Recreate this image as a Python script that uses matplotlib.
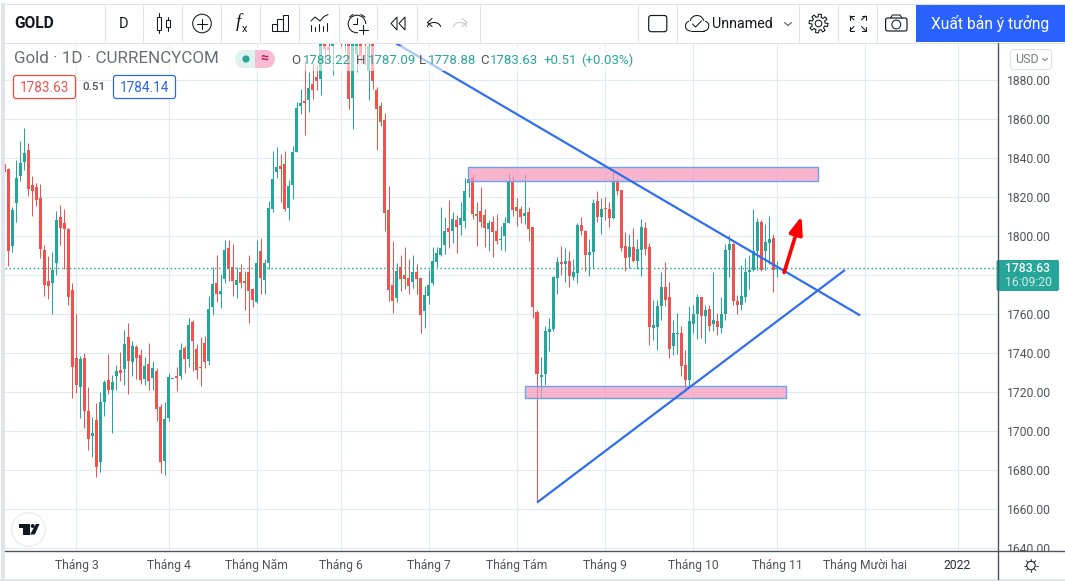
import numpy as np
import matplotlib
matplotlib.use("Agg")
import matplotlib.pyplot as plt
from matplotlib.patches import Rectangle, Circle, FancyBboxPatch, Polygon, Arc
from matplotlib.transforms import Bbox

plt.rcParams["font.family"] = ["Roboto", "DejaVu Sans"]

# Daily OHLC for Gold, one value per session
opens = [
    1837.0,1834.0,1794.7,1816.8,1830.6,1837.8,1843.8,1825.8,1824.8,1819.2,
    1792.5,1776.6,1775.7,1786.0,1809.4,1806.3,1803.3,1772.0,1737.6,1722.4,
    1737.6,1710.4,1697.3,1705.8,1684.0,1714.7,1726.3,1720.9,1728.0,1731.5,
    1731.6,1748.4,1735.2,1743.3,1739.2,1726.5,1734.5,1727.0,1730.9,1712.5,
    1684.5,1706.5,1726.5,1728.4,1728.0,1742.7,1736.8,1755.6,1742.2,1733.0,
    1745.3,1735.7,1763.4,1775.6,1770.1,1777.8,1793.5,1783.8,1774.7,1781.2,
    1776.6,1781.7,1772.5,1765.9,1792.1,1777.3,1786.1,1813.7,1832.8,1835.7,
    1836.7,1814.4,1826.1,1842.9,1866.5,1869.0,1869.6,1877.8,1881.4,1880.3,
    1898.8,1896.7,1897.3,1903.0,1905.0,1901.0,1903.0,1870.6,1893.2,1899.1,
    1902.0,1884.6,1902.0,1874.4,1866.5,1859.3,1813.0,1775.0,1768.0,1783.8,
    1779.7,1778.6,1776.2,1781.2,1778.6,1761.4,1769.0,1775.7,1786.5,1790.4,
    1795.5,1803.8,1802.4,1807.9,1805.3,1807.5,1827.0,1829.4,1811.0,1812.5,
    1810.4,1803.4,1806.8,1802.2,1797.8,1799.8,1806.3,1827.9,1814.5,1813.5,
    1809.9,1812.0,1804.3,1761.2,1727.9,1729.1,1750.6,1752.1,1778.3,1786.8,
    1785.3,1787.3,1779.1,1780.9,1805.3,1802.2,1790.4,1791.6,1817.6,1809.6,
    1814.0,1813.5,1809.0,1827.9,1823.2,1795.0,1789.1,1794.0,1787.0,1792.6,
    1803.8,1794.0,1753.0,1753.5,1763.8,1774.0,1768.9,1743.8,1749.6,1750.4,
    1734.0,1726.0,1755.0,1760.2,1768.4,1759.1,1762.7,1755.0,1756.6,1753.0,
    1760.2,1792.5,1795.6,1766.8,1764.3,1768.4,1781.7,1782.7,1792.3,1807.3,
    1792.0,1796.1,1799.1,1783.22,
]
closes = [
    1832.7,1792.2,1813.0,1829.4,1837.1,1842.2,1823.9,1822.9,1818.3,1793.2,
    1774.7,1774.2,1782.7,1807.9,1803.9,1803.4,1768.6,1732.7,1723.4,1737.1,
    1710.1,1696.2,1699.2,1681.4,1715.1,1725.3,1720.9,1725.3,1730.9,1729.6,
    1744.8,1735.7,1743.8,1737.3,1726.0,1733.5,1725.5,1732.5,1711.1,1684.0,
    1706.3,1727.9,1726.8,1727.0,1741.7,1736.8,1754.5,1746.0,1731.1,1732.1,
    1735.2,1762.7,1775.1,1770.1,1771.5,1792.5,1782.9,1776.8,1777.6,1775.7,
    1775.7,1771.6,1767.0,1786.3,1778.3,1786.0,1814.2,1829.1,1835.0,1834.2,
    1813.7,1825.5,1842.9,1865.5,1868.0,1868.0,1875.7,1874.7,1879.3,1902.0,
    1895.7,1895.2,1900.0,1907.0,1901.0,1905.0,1870.1,1903.0,1898.3,1892.0,
    1899.5,1897.1,1879.0,1865.1,1858.5,1811.8,1772.1,1766.5,1782.2,1777.8,
    1778.1,1774.5,1781.2,1777.8,1759.3,1769.9,1775.0,1787.3,1791.4,1793.5,
    1802.2,1801.7,1808.4,1804.3,1808.9,1822.7,1828.9,1811.1,1810.1,1807.0,
    1803.9,1806.3,1801.9,1797.3,1798.6,1806.3,1827.9,1813.2,1812.7,1809.6,
    1811.5,1803.4,1763.4,1729.1,1728.9,1751.4,1752.5,1779.1,1786.8,1785.3,
    1787.3,1779.3,1781.2,1805.3,1802.4,1790.1,1791.5,1816.6,1809.6,1813.5,
    1813.7,1809.0,1827.4,1822.9,1793.7,1788.5,1794.0,1787.0,1793.0,1804.3,
    1793.2,1753.2,1754.5,1763.8,1774.0,1767.3,1741.9,1750.4,1749.9,1733.2,
    1726.0,1756.6,1760.2,1768.9,1759.1,1762.2,1754.0,1757.1,1753.5,1759.7,
    1792.5,1795.6,1766.8,1764.3,1769.4,1781.7,1782.7,1792.3,1807.3,1782.7,
    1796.6,1798.6,1782.7,1783.63,
]
highs = [
    1837.1,1834.5,1814.9,1838.6,1848.4,1855.1,1847.4,1830.4,1826.8,1826.3,
    1795.1,1789.4,1791.5,1812.5,1815.6,1813.5,1803.8,1775.6,1759.7,1738.6,
    1740.2,1722.7,1707.4,1714.2,1720.2,1726.3,1739.7,1728.9,1734.0,1740.7,
    1751.5,1755.1,1746.3,1744.3,1742.2,1738.1,1745.3,1736.1,1732.5,1714.0,
    1715.1,1729.9,1726.8,1733.0,1745.3,1743.8,1758.1,1757.1,1744.8,1748.4,
    1748.9,1769.4,1783.8,1789.9,1780.2,1797.6,1797.6,1795.6,1783.8,1785.3,
    1782.2,1789.9,1773.5,1797.6,1798.8,1788.0,1817.6,1843.4,1845.5,1841.7,
    1843.6,1828.5,1846.0,1868.5,1875.2,1889.7,1883.8,1888.5,1887.2,1905.0,
    1903.0,1902.0,1903.0,1910.0,1907.0,1908.0,1908.0,1908.0,1904.0,1903.0,
    1905.0,1903.0,1905.0,1876.1,1868.7,1862.9,1825.3,1797.1,1786.3,1789.9,
    1794.5,1787.9,1789.9,1785.3,1778.6,1774.2,1782.7,1794.5,1794.2,1814.5,
    1809.4,1818.1,1812.0,1810.4,1817.1,1829.4,1828.9,1831.5,1817.1,1824.8,
    1813.5,1807.9,1809.9,1811.4,1804.8,1809.4,1832.3,1830.9,1819.1,1815.0,
    1831.5,1814.5,1804.6,1762.2,1738.1,1754.0,1758.1,1779.5,1788.9,1795.0,
    1793.5,1792.0,1787.9,1806.3,1809.4,1802.7,1798.1,1818.6,1822.7,1819.1,
    1819.7,1817.1,1833.0,1828.9,1823.2,1801.7,1800.7,1803.8,1798.1,1808.4,
    1806.8,1796.1,1767.3,1767.3,1781.2,1786.8,1776.1,1757.1,1760.7,1754.0,
    1741.7,1763.8,1764.8,1770.4,1768.9,1764.3,1764.3,1781.2,1760.5,1768.9,
    1795.6,1800.2,1796.1,1769.9,1784.8,1788.4,1789.9,1813.5,1808.9,1807.9,
    1805.8,1809.9,1800.7,1787.09,
]
lows = [
    1832.7,1784.5,1791.6,1807.0,1828.0,1833.7,1820.4,1810.1,1815.2,1788.6,
    1769.1,1767.5,1759.8,1779.8,1795.2,1782.9,1764.5,1716.8,1719.3,1706.5,
    1701.4,1690.1,1686.5,1676.3,1679.3,1707.5,1718.8,1698.8,1720.9,1725.5,
    1723.4,1718.8,1728.0,1726.5,1723.9,1723.4,1720.9,1720.9,1705.0,1678.3,
    1677.3,1705.0,1726.5,1720.4,1726.5,1729.8,1732.7,1730.6,1726.5,1722.9,
    1732.1,1733.7,1759.3,1766.0,1762.9,1775.7,1776.8,1769.1,1768.0,1773.2,
    1761.9,1755.2,1763.4,1765.5,1770.1,1770.1,1782.9,1812.3,1829.4,1817.3,
    1812.6,1808.2,1818.8,1842.7,1862.4,1851.6,1863.6,1870.1,1874.4,1872.1,
    1888.2,1889.1,1882.2,1901.0,1895.9,1894.2,1865.1,1854.9,1883.8,1888.0,
    1887.2,1869.7,1875.2,1844.1,1856.1,1802.6,1766.5,1760.3,1766.0,1771.6,
    1772.6,1770.1,1773.2,1770.1,1750.1,1752.6,1765.0,1774.7,1783.9,1789.6,
    1790.9,1793.7,1796.2,1791.1,1800.3,1803.9,1819.7,1808.5,1794.7,1804.4,
    1794.2,1792.1,1789.1,1795.7,1792.6,1792.1,1806.3,1810.1,1805.0,1806.3,
    1806.0,1797.3,1757.8,1664.0,1717.3,1723.4,1740.9,1751.1,1770.1,1779.8,
    1776.2,1773.7,1777.6,1775.6,1800.3,1781.9,1779.3,1783.4,1806.8,1800.9,
    1808.0,1804.4,1808.7,1820.9,1792.1,1781.9,1783.4,1786.5,1782.9,1779.3,
    1790.1,1744.3,1746.5,1741.4,1757.1,1763.9,1737.3,1739.1,1739.3,1728.0,
    1721.2,1722.9,1750.3,1747.3,1747.9,1745.0,1751.1,1751.1,1749.4,1750.1,
    1757.1,1778.8,1764.4,1759.7,1762.2,1766.3,1772.5,1782.2,1782.7,1782.2,
    1782.7,1785.8,1771.1,1778.88,
]

# Price and time axes
price_ticks = [1640, 1660, 1680, 1700, 1720, 1740, 1760, 1780, 1800, 1820, 1840, 1860, 1880]
price_tick_labels = ["1640.00", "1660.00", "1680.00", "1700.00", "1720.00", "1740.00", "1760.00",
                     "", "1800.00", "1820.00", "1840.00", "1860.00", "1880.00"]
month_positions = [18, 41, 63, 84, 106, 128, 150, 172, 193, 215, 238]
month_labels = ["Tháng 3", "Tháng 4", "Tháng Năm", "Tháng 6", "Tháng 7", "Tháng Tám",
                "Tháng 9", "Tháng 10", "Tháng 11", "Tháng Mười hai", "2022"]
last_price = 1783.63

# User drawings: trend lines, zones and the projected move
falling_line_x = [97.4, 213.7]
falling_line_y = [1899.0, 1759.2]
rising_line_x = [133.0, 209.9]
rising_line_y = [1663.4, 1782.5]
upper_zone = (115.85, 203.2, 1828.2, 1835.0)
lower_zone = (130.1, 195.1, 1716.8, 1722.9)
arrow_from = (194.7, 1781.2)
arrow_to = (199.05, 1810.0)

UP = "#26a69a"
DOWN = "#ef5350"
GRID = "#e1eaf2"
INK = "#131722"
TEXT = "#50535e"
LINE_BLUE = "#2f6fee"
BORDER = "#e0e3eb"

W, H = 1065, 581
fig = plt.figure(figsize=(W / 100, H / 100), dpi=100, facecolor="white")

# Plot pane
left, right, top, bottom = 5, 997.5, 43, 551
ax = fig.add_axes([left / W, 1 - bottom / H, (right - left) / W, (bottom - top) / H])
ax.set_xlim(0.167, 247.98)
ax.set_ylim(1638.6, 1898.7)
for s in ax.spines.values():
    s.set_visible(False)
ax.set_axisbelow(True)
ax.grid(True, color=GRID, linewidth=0.85)
ax.yaxis.tick_right()
ax.set_yticks(price_ticks)
ax.set_yticklabels(price_tick_labels, fontsize=8.7, color=TEXT)
ax.set_xticks(month_positions)
ax.set_xticklabels(month_labels, fontsize=8.7, color=TEXT)
ax.get_xticklabels()[-1].set_color("#2a2e39")
ax.tick_params(axis="both", length=0)
ax.tick_params(axis="y", pad=6.8)
ax.tick_params(axis="x", pad=5.6)
# The lowest price label is cut off by the time axis strip
clip = Bbox([[998, H - bottom], [W, H - top]])
for lbl in ax.get_yticklabels():
    lbl.set_clip_on(True)
    lbl.set_clip_box(clip)

# Candles: one-pixel wicks and three-pixel bodies
x = np.arange(len(opens))
o, c, hi, lo = map(np.array, (opens, closes, highs, lows))
colors = np.where(c >= o, UP, DOWN)
ax.vlines(x, lo, hi, colors=colors, linewidth=0.72, zorder=2, snap=True)
ax.bar(x, np.maximum(np.abs(c - o), 0.5), bottom=np.minimum(o, c), width=0.75,
       color=colors, linewidth=0, zorder=2.1)

# Last price line
ax.axhline(last_price, color=UP, linewidth=1.0, linestyle=(0, (1.1, 1.8)), zorder=2.5)

# Zones sit above the candles and let them show through
for x0, x1, y0, y1 in (upper_zone, lower_zone):
    ax.add_patch(Rectangle((x0, y0), x1 - x0, y1 - y0, facecolor=(0.96, 0.59, 0.725, 0.7),
                           edgecolor="#6e9fef", linewidth=1.0, zorder=3))

ax.plot(falling_line_x, falling_line_y, color=LINE_BLUE, linewidth=1.6, zorder=4,
        solid_capstyle="butt")
ax.plot(rising_line_x, rising_line_y, color=LINE_BLUE, linewidth=1.6, zorder=4,
        solid_capstyle="butt")
ax.annotate("", xy=arrow_to, xytext=arrow_from, zorder=5,
            arrowprops=dict(arrowstyle="-|>,head_length=10.5,head_width=4.0", color="#ff0000",
                            linewidth=2.6, shrinkA=0, shrinkB=0, mutation_scale=1))

# Interface layer in pixel units
ui = fig.add_axes([0, 0, 1, 1], facecolor="none")
ui.set_xlim(0, W)
ui.set_ylim(H, 0)
ui.axis("off")
LW = 0.75


def line(xs, ys, color=INK, lw=LW, **kw):
    ui.plot(xs, ys, color=color, linewidth=lw, solid_capstyle="round", **kw)


def lobe(cx, cy, r, deg_from, deg_to):
    t = np.radians(np.linspace(deg_from, deg_to, 40))
    line(cx + r * np.cos(t), cy - r * np.sin(t))


def box(x0, y0, x1, y1, fc="none", ec=INK, lw=LW, radius=0.0, **kw):
    if radius:
        p = FancyBboxPatch((x0 + radius, y0 + radius), x1 - x0 - 2 * radius, y1 - y0 - 2 * radius,
                           boxstyle=f"round,pad={radius},rounding_size={radius}",
                           facecolor=fc, edgecolor=ec, linewidth=lw, **kw)
    else:
        p = Rectangle((x0, y0), x1 - x0, y1 - y0, facecolor=fc, edgecolor=ec, linewidth=lw, **kw)
    ui.add_patch(p)


def label(px, py, s, px_size, color=TEXT, ha="left", va="center", **kw):
    return ui.text(px, py, s, fontsize=px_size * 0.72, color=color, ha=ha, va=va, **kw)


# Frame around the chart
box(0, 0, W, 43, fc="white", ec="none", lw=0)
box(1, 3, 4.6, H, fc=BORDER, ec="none", lw=0)
box(0, 579, W, H, fc=BORDER, ec="none", lw=0)
line([5, W], [3.5, 3.5], BORDER)
line([5, W], [42.5, 42.5], BORDER)
line([5, W], [551, 551], TEXT, 1.0)
line([997.5, 997.5], [43, 579], TEXT, 1.0)
for sx in [105, 143, 182, 221, 260, 299, 339, 377, 417, 480, 638, 676.5, 799, 838, 877]:
    line([sx, sx], [4, 42], BORDER)

# Legend haze over the plot
box(5, 46, 640, 71, fc=(1, 1, 1, 0.6), ec="none", lw=0)

# Toolbar: symbol and interval
label(14, 23.5, "GOLD", 15.5, INK, fontweight="bold")
label(124, 23.5, "D", 14.5, INK, ha="center")

# Candle icon
box(157, 17, 161, 30, ec=INK)
line([159, 159], [13, 17])
line([159, 159], [30, 33])
box(166, 19.5, 170, 27, ec=INK)
line([168, 168], [17, 19.5])
line([168, 168], [27, 31])

# Add-symbol icon
ui.add_patch(Circle((202, 23.5), 9.3, fill=False, ec=INK, lw=LW))
line([197, 207], [23.5, 23.5])
line([202, 202], [18.5, 28.5])

# Indicators icon
label(238, 22, "f", 19, INK, ha="center", family="Liberation Serif", style="italic")
label(245, 28.5, "x", 11, INK, ha="center")

# Bar chart icon
box(271.5, 24, 277, 30.5, ec=INK)
box(277, 19, 282.5, 30.5, ec=INK)
box(282.5, 14.5, 288, 30.5, ec=INK)

# Compare icon
line([311, 315, 320, 324, 328], [21, 17, 21, 16.5, 14.5])
for bx, by in zip([311, 315, 319, 323, 327], [25, 27, 24, 26, 23]):
    line([bx, bx], [by, 31])

# Alarm icon
ui.add_patch(Circle((357, 24), 8.8, fill=False, ec=INK, lw=LW))
line([357, 357, 353], [18, 24, 24])
line([349.5, 353], [17, 14.5])
line([361, 365], [14.5, 17])
box(358, 24, 368, 34, fc="white", ec="none", lw=0)
line([358.5, 368], [29.5, 29.5])
line([363.2, 363.2], [25, 34])

# Replay and undo icons
ui.add_patch(Polygon([[397, 17], [391, 23.5], [397, 30]], closed=True, fill=False, ec=INK, lw=LW))
ui.add_patch(Polygon([[405, 17], [399, 23.5], [405, 30]], closed=True, fill=False, ec=INK, lw=LW))
line([432, 427.5, 432], [18.5, 22.5, 26.5])
ui.add_patch(Arc((434, 27), 13, 9, theta1=180, theta2=360, ec=INK, lw=LW))
line([462, 467, 462], [18.5, 22.5, 26.5], "#c1c4cd")
ui.add_patch(Arc((460, 27), 13, 9, theta1=180, theta2=360, ec="#c1c4cd", lw=LW))

# Right side of the toolbar
box(648.7, 15.5, 666.8, 31.7, ec=INK, lw=0.85, radius=2.5)

# Cloud with check mark
lobe(690.5, 26, 5, 270, 110)
lobe(697, 22.5, 7, 165, 15)
lobe(703.8, 26, 5, 70, -90)
line([690.5, 703.8], [31, 31])
line([692.5, 695.5, 701.5], [24, 27, 21])

label(712, 23.5, "Unnamed", 14.3, INK)
line([784.5, 788, 791.5], [22.5, 25.5, 22.5], TEXT)

# Settings gear
ang = np.linspace(0, 2 * np.pi, 97)
gear_r = 8.0 + 1.4 * np.sign(np.sin(8 * ang + 0.4))
line(818.5 + gear_r * np.cos(ang), 23.5 + gear_r * np.sin(ang), INK)
ui.add_patch(Circle((818.5, 23.5), 3.3, fill=False, ec=INK, lw=LW))

# Fullscreen corners
for (cx0, cy0), (sxx, syy) in zip([(850, 16), (865.5, 16), (850, 30.5), (865.5, 30.5)],
                                  [(1, 1), (-1, 1), (1, -1), (-1, -1)]):
    line([cx0 + 4 * sxx, cx0, cx0], [cy0, cy0, cy0 + 4 * syy])
    line([cx0, cx0 + 4 * sxx], [cy0, cy0 + 4 * syy])

# Camera
box(885.6, 18, 907, 31, ec=INK, lw=0.85, radius=2)
line([890.5, 892.5, 900, 902], [18, 15, 15, 18])
ui.add_patch(Circle((896.3, 24.5), 4.4, fill=False, ec=INK, lw=LW))

# Publish button
box(916, 4, W, 42, fc="#2962ff", ec="none", lw=0)
label(990, 23.5, "Xuất bản ý tưởng", 15.6, "white", ha="center")

# Instrument legend
label(14, 58.5, "Gold · 1D · CURRENCYCOM", 17, "#6a6d78")

# Market status pill
ui.add_patch(Circle((244, 59), 9, fc="#dff2ef", ec="none"))
box(244, 50, 255, 68, fc="#dff2ef", ec="none", lw=0)
ui.add_patch(Circle((266, 59), 9, fc="#f8bbd0", ec="none"))
box(255, 50, 266, 68, fc="#f8bbd0", ec="none", lw=0)
ui.add_patch(Circle((246, 59), 3.6, fc=UP, ec="none"))
label(264, 58.5, "≈", 14, "#c2185b", ha="center", fontweight="bold")

# OHLC readout
for px, s, col in [(291.5, "O", TEXT), (303, "1783.22", UP), (356, "H", TEXT), (367.5, "1787.09", UP),
                   (419, "L", TEXT), (428, "1778.88", UP), (480.5, "C", TEXT), (490, "1783.63", UP),
                   (544, "+0.51", UP), (581, "(+0.03%)", UP)]:
    label(px, 60, s, 13.2, col)

# Bid and ask
box(13.5, 75.5, 75.5, 98.5, fc="white", ec="#f44336", lw=0.85, radius=2.5)
label(44.5, 87.5, "1783.63", 13.5, "#ef5350", ha="center")
label(94, 87.5, "0.51", 11.5, TEXT, ha="center", fontweight="medium")
box(113.5, 75.5, 175.5, 98.5, fc="white", ec="#2962ff", lw=0.85, radius=2.5)
label(144.5, 87.5, "1784.14", 13.5, "#2962ff", ha="center")

# Currency selector
box(1010.5, 49.5, 1051.5, 69.5, fc="white", ec=BORDER, lw=0.85, radius=3)
label(1015, 59.5, "USD", 12.5, "#787b86")
line([1042.5, 1045, 1047.5], [58.5, 60.5, 58.5], "#787b86")

# Last price tag on the price axis
box(996.5, 260, 1059, 291, fc=UP, ec="none", lw=0, radius=2)
label(1028, 268.5, "1783.63", 12.2, "white", ha="center", fontweight="medium")
label(1028, 283, "16:09:20", 12.2, "#d3eeea", ha="center")

# Logo badge
ui.add_patch(Circle((28.5, 529.5), 16.8, fc="white", ec="#eceef2", lw=1.2))
box(18.5, 524, 29.5, 528, fc="#131722", ec="none", lw=0)
box(23, 524, 29.5, 534.5, fc="#131722", ec="none", lw=0)
ui.add_patch(Circle((32.7, 526), 2.0, fc="#131722", ec="none"))
ui.add_patch(Polygon([[30, 534.5], [34.8, 534.5], [39.5, 524], [36, 524]], closed=True,
                     fc="#131722", ec="none"))

# Theme toggle
ui.add_patch(Circle((1031, 565.5), 4.2, fill=False, ec=INK, lw=LW))
for a in np.arange(0, 2 * np.pi, np.pi / 4):
    line([1031 + 4.6 * np.cos(a), 1031 + 6.8 * np.cos(a)],
         [565.5 + 4.6 * np.sin(a), 565.5 + 6.8 * np.sin(a)], INK, 0.6)

fig.savefig("out.png", dpi=100)
